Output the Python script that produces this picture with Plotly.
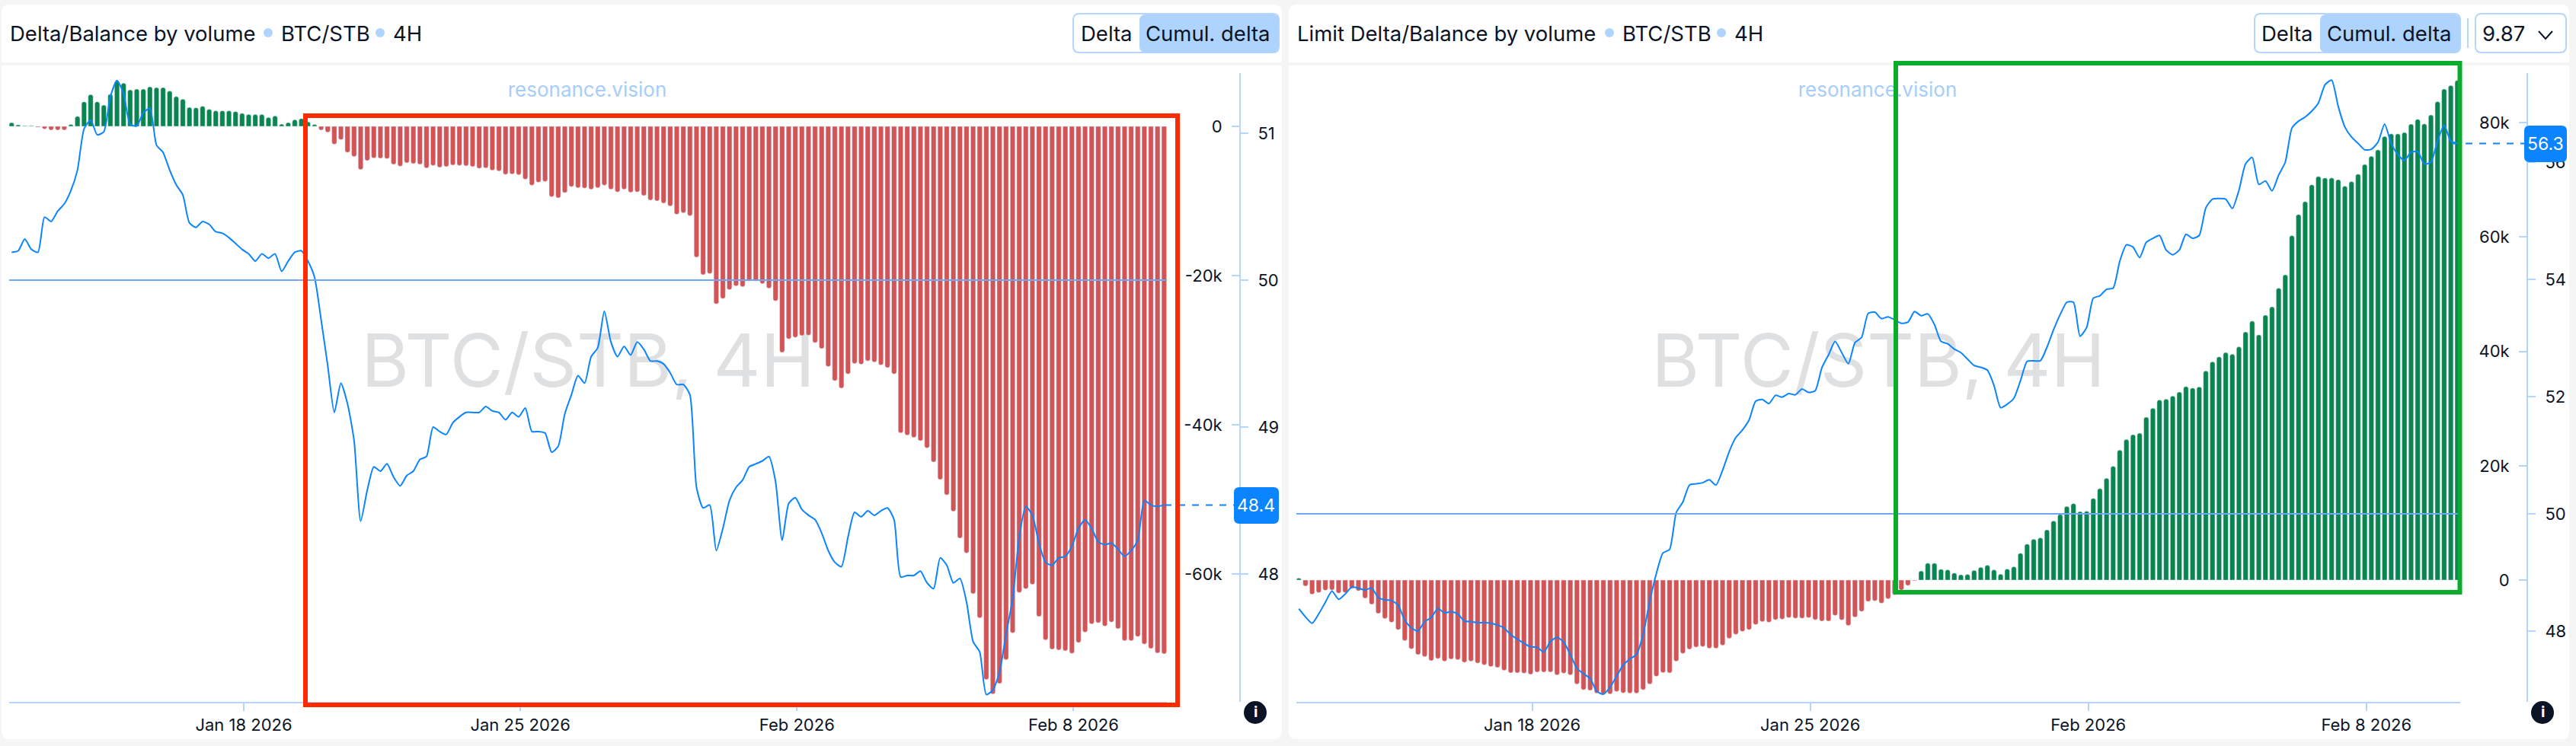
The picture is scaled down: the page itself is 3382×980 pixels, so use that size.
import pandas as pd
import plotly.graph_objects as go

W, H = 3382, 980

# 4H candles, same time base on both panels
times = pd.date_range("2026-01-12 03:00", periods=176, freq="4h")

# cumulative delta, thousands
delta_left = [
    0.5, 0.2, 0.07, 0.07, -0.1, -0.35, -0.5, -0.5, -0.5, 0.25, 1.35, 3.3, 4.25, 3.3, 2.85, 4.3,
    6.1, 5.8, 4.9, 5.0, 5.0, 5.3, 5.2, 5.2, 4.75, 4.0, 3.65, 2.55, 2.5, 2.7, 2.3, 2.1,
    2.1, 2.1, 2.0, 1.75, 1.6, 1.6, 1.6, 1.2, 1.4, 0.3, 0.5, 0.9, 1.05, 0.6, 0.25, -0.5,
    -0.8, -2.4, -1.8, -3.5, -4.05, -5.8, -4.6, -4.25, -4.3, -4.35, -5.1, -5.35, -4.9, -5.0, -5.1, -5.6,
    -5.25, -5.5, -5.4, -5.2, -5.25, -5.3, -5.4, -5.65, -5.6, -5.9, -6.0, -6.45, -6.4, -6.5, -7.1, -7.9,
    -7.5, -7.4, -9.45, -9.6, -8.9, -8.1, -8.25, -8.3, -8.45, -8.25, -7.9, -8.45, -8.8, -8.45, -8.85, -8.8,
    -9.3, -9.9, -10.0, -10.3, -10.7, -11.8, -11.6, -12.0, -17.55, -19.9, -19.75, -23.8, -23.1, -21.9, -21.4, -21.5,
    -20.75, -20.75, -21.1, -21.7, -23.4, -30.3, -28.5, -28.3, -28.05, -28.0, -29.0, -29.8, -32.2, -34.1, -35.1, -33.2,
    -31.8, -31.9, -31.45, -31.6, -32.0, -32.35, -33.2, -41.1, -41.4, -41.7, -42.15, -43.1, -45.0, -47.35, -49.4, -51.6,
    -55.2, -57.2, -62.65, -65.9, -74.15, -76.1, -74.7, -71.5, -67.9, -62.5, -62.0, -61.4, -65.7, -68.85, -70.1, -70.2,
    -70.3, -70.65, -69.2, -67.8, -66.7, -66.55, -67.0, -66.45, -67.35, -68.95, -68.95, -68.4, -69.4, -70.0, -70.6, -70.7,
]
delta_right = [
    0.35, -1.07, -2.5, -2.2, -1.8, -1.75, -2.3, -2.2, -1.5, -1.9, -3.2, -4.25, -5.85, -6.75, -7.4, -8.7,
    -10.6, -12.05, -13.05, -13.4, -14.1, -13.75, -14.2, -13.85, -13.95, -14.4, -14.2, -14.55, -14.85, -15.15, -15.3, -15.8,
    -16.25, -16.25, -16.3, -16.5, -16.1, -16.1, -16.1, -16.6, -16.3, -16.6, -18.2, -19.2, -19.3, -19.8, -19.95, -19.95,
    -19.5, -19.75, -19.8, -19.8, -19.2, -18.2, -16.85, -16.2, -16.25, -14.2, -12.85, -12.1, -11.75, -11.65, -11.95, -11.95,
    -11.4, -10.2, -9.5, -9.0, -8.7, -7.8, -7.3, -7.4, -6.95, -6.85, -6.6, -6.7, -6.7, -6.6, -6.95, -7.2,
    -7.2, -6.2, -7.0, -7.95, -6.5, -5.5, -3.75, -3.65, -4.05, -3.3, -2.6, -1.75, -0.95, -0.1, 1.6, 2.95,
    2.95, 1.9, 1.8, 1.25, 0.95, 1.0, 1.7, 2.25, 2.6, 1.8, 1.05, 1.95, 2.35, 4.7, 6.3, 7.15,
    7.4, 8.8, 10.35, 11.5, 12.9, 13.4, 12.0, 12.05, 14.3, 16.0, 17.8, 19.9, 22.75, 24.6, 25.45, 25.7,
    28.5, 30.05, 31.5, 31.65, 32.2, 32.9, 33.85, 33.6, 33.8, 36.6, 38.2, 39.05, 39.8, 39.5, 40.8, 43.4,
    45.3, 42.9, 46.35, 47.8, 51.05, 53.4, 60.25, 63.95, 66.2, 69.15, 70.6, 70.35, 70.35, 70.05, 68.9, 69.7,
    71.0, 72.7, 74.15, 75.25, 77.6, 78.05, 78.05, 78.3, 79.75, 80.6, 79.8, 81.35, 83.7, 85.9, 86.5, 87.4,
]

# balance, percent
balance_left = [
    50.19, 50.20, 50.28, 50.21, 50.19, 50.43, 50.40, 50.47, 50.52, 50.61, 50.75, 51.03, 51.09, 50.99, 51.01, 51.25,
    51.36, 51.27, 51.06, 51.05, 51.14, 51.17, 50.92, 50.87, 50.75, 50.65, 50.58, 50.39, 50.36, 50.40, 50.38, 50.33,
    50.32, 50.29, 50.25, 50.21, 50.18, 50.13, 50.18, 50.15, 50.18, 50.06, 50.13, 50.19, 50.20, 50.13, 50.02, 49.73,
    49.42, 49.10, 49.30, 49.16, 48.91, 48.36, 48.57, 48.73, 48.70, 48.75, 48.66, 48.60, 48.67, 48.70, 48.78, 48.80,
    49.00, 48.97, 48.95, 49.03, 49.07, 49.10, 49.10, 49.10, 49.14, 49.11, 49.10, 49.05, 49.10, 49.07, 49.13, 48.97,
    48.97, 48.96, 48.83, 48.87, 49.09, 49.22, 49.35, 49.30, 49.48, 49.54, 49.79, 49.58, 49.48, 49.55, 49.49, 49.58,
    49.53, 49.45, 49.45, 49.43, 49.37, 49.29, 49.29, 49.22, 48.59, 48.45, 48.47, 48.16, 48.31, 48.50, 48.59, 48.64,
    48.73, 48.75, 48.77, 48.80, 48.63, 48.23, 48.48, 48.52, 48.44, 48.40, 48.37, 48.28, 48.16, 48.08, 48.05, 48.25,
    48.42, 48.39, 48.43, 48.40, 48.43, 48.45, 48.37, 47.98, 47.99, 47.99, 48.02, 47.94, 47.90, 48.11, 48.06, 47.94,
    47.97, 47.81, 47.54, 47.47, 47.18, 47.21, 47.33, 47.59, 47.83, 48.25, 48.46, 48.40, 48.21, 48.08, 48.06, 48.11,
    48.12, 48.19, 48.31, 48.37, 48.31, 48.22, 48.20, 48.21, 48.17, 48.12, 48.16, 48.23, 48.50, 48.47, 48.46, 48.47,
]
balance_right = [
    48.38, 48.24, 48.13, 48.29, 48.49, 48.68, 48.54, 48.63, 48.75, 48.73, 48.70, 48.73, 48.57, 48.53, 48.52, 48.44,
    48.18, 48.05, 48.00, 48.16, 48.23, 48.38, 48.31, 48.33, 48.29, 48.17, 48.16, 48.14, 48.14, 48.13, 48.10, 48.05,
    47.94, 47.86, 47.79, 47.73, 47.72, 47.64, 47.82, 47.89, 47.81, 47.60, 47.36, 47.27, 47.19, 46.97, 46.92, 47.04,
    47.23, 47.42, 47.52, 47.60, 47.94, 48.51, 48.98, 49.33, 49.39, 50.02, 50.20, 50.49, 50.51, 50.53, 50.58, 50.49,
    50.74, 51.06, 51.30, 51.43, 51.60, 51.92, 51.95, 51.88, 52.02, 51.99, 52.05, 52.03, 52.13, 52.07, 52.10, 52.49,
    52.71, 52.94, 52.75, 52.56, 52.92, 53.01, 53.42, 53.44, 53.33, 53.36, 53.31, 53.25, 53.27, 53.45, 53.38, 53.41,
    53.23, 52.94, 52.90, 52.81, 52.75, 52.64, 52.53, 52.50, 52.45, 52.19, 51.81, 51.87, 51.97, 52.27, 52.60, 52.61,
    52.61, 52.84, 53.14, 53.40, 53.61, 53.61, 53.03, 53.18, 53.68, 53.72, 53.83, 53.85, 54.31, 54.59, 54.55, 54.37,
    54.63, 54.70, 54.75, 54.50, 54.42, 54.50, 54.77, 54.70, 54.75, 55.22, 55.37, 55.38, 55.37, 55.21, 55.52, 55.97,
    56.08, 55.62, 55.68, 55.51, 55.78, 56.00, 56.58, 56.70, 56.77, 56.87, 57.01, 57.32, 57.40, 56.95, 56.60, 56.43,
    56.32, 56.21, 56.22, 56.34, 56.65, 56.32, 56.13, 56.03, 56.17, 56.18, 55.97, 56.00, 56.36, 56.63, 56.36, 56.32,
]

x_ticks = ["2026-01-18", "2026-01-25", "2026-02-01", "2026-02-08"]
x_tick_labels = ["Jan 18 2026", "Jan 25 2026", "Feb 2026", "Feb 8 2026"]
x_range = ["2026-01-12 01:30", "2026-02-10 08:42"]

INK = "#0b1426"
LIGHT = "#b5d6fc"
FILL = "#aed3fd"
BLUE = "#0a84ff"
RED = "#d15456"
GREEN = "#0a8550"
FONT = "Inter"
Y_DOMAIN = [1 - 922 / H, 1 - 96 / H]


def px(x):
    return x / W


def py(y):
    return 1 - y / H


def rounded(x0, y0, x1, y1, r):
    return (
        f"M{px(x0 + r)},{py(y0)} L{px(x1 - r)},{py(y0)} Q{px(x1)},{py(y0)} {px(x1)},{py(y0 + r)} "
        f"L{px(x1)},{py(y1 - r)} Q{px(x1)},{py(y1)} {px(x1 - r)},{py(y1)} "
        f"L{px(x0 + r)},{py(y1)} Q{px(x0)},{py(y1)} {px(x0)},{py(y1 - r)} "
        f"L{px(x0)},{py(y0 + r)} Q{px(x0)},{py(y0)} {px(x0 + r)},{py(y0)} Z"
    )


def box(x0, y0, x1, y1, r=0, fill="#ffffff", line=None, width=0, layer="below"):
    shape = dict(type="path", path=rounded(x0, y0, x1, y1, r), xref="paper", yref="paper",
                 fillcolor=fill, line=dict(color=line or fill, width=width), layer=layer)
    return shape


def label(text, x, y, size=27.5, color=INK, anchor="left"):
    return dict(text=text, x=px(x), y=py(y), xref="paper", yref="paper", showarrow=False, xanchor=anchor,
                yanchor="middle", font=dict(family=FONT, size=size, color=color))


def bar_colors(values):
    return [GREEN if v >= 0 else RED for v in values]


fig = go.Figure()

# watermarks go into their own first subplot so the bars draw over them
fig.add_trace(go.Scatter(
    x=[772, 2466, 771, 2465], y=[484, 484, 120, 120], mode="text",
    text=["BTC/STB, 4H", "BTC/STB, 4H", "resonance.vision", "resonance.vision"],
    textposition="middle center",
    textfont=dict(family=FONT, size=[96, 96, 26, 26], color=["#dfe0e2", "#dfe0e2", "#a7cdfb", "#a7cdfb"]),
    hoverinfo="skip", showlegend=False, xaxis="x", yaxis="y",
))

fig.add_trace(go.Bar(x=times, y=delta_left, marker=dict(color=bar_colors(delta_left), cornerradius=3),
                     hoverinfo="skip", showlegend=False, xaxis="x2", yaxis="y2"))
fig.add_trace(go.Scatter(x=times, y=balance_left, mode="lines", hoverinfo="skip", showlegend=False,
                         line=dict(color=BLUE, width=2, shape="spline", smoothing=0.6), xaxis="x2", yaxis="y3"))
fig.add_trace(go.Bar(x=times, y=delta_right, marker=dict(color=bar_colors(delta_right), cornerradius=3),
                     hoverinfo="skip", showlegend=False, xaxis="x3", yaxis="y4"))
fig.add_trace(go.Scatter(x=times, y=balance_right, mode="lines", hoverinfo="skip", showlegend=False,
                         line=dict(color=BLUE, width=2, shape="spline", smoothing=0.6), xaxis="x3", yaxis="y5"))


def x_axis(x0, x1):
    return dict(domain=[px(x0), px(x1)], range=x_range, tickvals=x_ticks, ticktext=x_tick_labels, showgrid=False,
                zeroline=False, showline=True, linecolor=LIGHT, linewidth=2, ticks="outside", ticklen=10,
                tickwidth=2, tickcolor=LIGHT, tickangle=0, tickfont=dict(family=FONT, size=22, color=INK))


def y_axis(x, rng, vals, text, side, overlay=None):
    axis = dict(domain=Y_DOMAIN, range=rng, tickvals=vals, ticktext=text, side=side, anchor="free", position=px(x),
                showgrid=False, zeroline=False, showline=True, linecolor=LIGHT, linewidth=2, ticks="outside",
                ticklen=10, tickwidth=2, tickcolor=LIGHT, ticklabelstandoff=8,
                tickfont=dict(family=FONT, size=22, color=INK))
    if overlay:
        axis["overlaying"] = overlay
    return axis


shapes = [
    box(2, 6, 1683, 971, 10),
    box(1692, 6, 3373, 971, 10),
    dict(type="rect", xref="paper", yref="paper", x0=px(2), x1=px(1683), y0=py(82), y1=py(86), layer="below",
         fillcolor="#f5f5f5", line_width=0),
    dict(type="rect", xref="paper", yref="paper", x0=px(1692), x1=px(3373), y0=py(82), y1=py(86), layer="below",
         fillcolor="#f5f5f5", line_width=0),
    # toggles
    box(1409, 18, 1679, 69, 8, fill="#ffffff", line=LIGHT, width=2),
    box(1496, 19, 1679, 69, 8, fill=FILL, line=FILL, width=0),
    box(2960, 18, 3230, 69, 8, fill="#ffffff", line=LIGHT, width=2),
    box(3046, 19, 3230, 69, 8, fill=FILL, line=FILL, width=0),
    box(3250, 18, 3369, 69, 8, fill="#ffffff", line=LIGHT, width=2),
    dict(type="line", xref="paper", yref="paper", x0=px(3240), x1=px(3240), y0=py(24), y1=py(63),
         line=dict(color=LIGHT, width=2), layer="below"),
    dict(type="path", xref="paper", yref="paper", layer="below",
         path=f"M{px(3333)},{py(41)} L{px(3342)},{py(51)} L{px(3351)},{py(41)}", line=dict(color=INK, width=2)),
    # 50% levels
    dict(type="line", xref="x2 domain", x0=0, x1=1, yref="y3", y0=50, y1=50, line=dict(color="#6ea8f5", width=2)),
    dict(type="line", xref="x3 domain", x0=0, x1=1, yref="y5", y0=50, y1=50, line=dict(color="#6ea8f5", width=2)),
    # last value leaders
    dict(type="line", xref="paper", x0=px(1529), x1=px(1620), yref="y3", y0=balance_left[-1], y1=balance_left[-1],
         line=dict(color=BLUE, width=2, dash="dash")),
    dict(type="line", xref="paper", x0=px(3219), x1=px(3314), yref="y5", y0=balance_right[-1], y1=balance_right[-1],
         line=dict(color=BLUE, width=2, dash="dash")),
    box(1620, 640, 1679, 688, 7, fill=BLUE, layer="above"),
    box(3314, 165, 3370, 213, 7, fill=BLUE, layer="above"),
    # highlight frames
    dict(type="rect", xref="paper", yref="paper", x0=px(401), x1=px(1546), y0=py(152), y1=py(926),
         line=dict(color="#ff2a00", width=6)),
    dict(type="rect", xref="paper", yref="paper", x0=px(2489), x1=px(3229.5), y0=py(83), y1=py(778),
         line=dict(color="#0bab2c", width=6)),
    # info icons
    dict(type="circle", xref="paper", yref="paper", x0=px(1633), x1=px(1663), y0=py(921), y1=py(951),
         fillcolor=INK, line_width=0),
    dict(type="circle", xref="paper", yref="paper", x0=px(3323), x1=px(3353), y0=py(921), y1=py(951),
         fillcolor=INK, line_width=0),
    # header dots
    dict(type="circle", xref="paper", yref="paper", x0=px(346), x1=px(358), y0=py(37), y1=py(49),
         fillcolor="#b0d4fd", line_width=0),
    dict(type="circle", xref="paper", yref="paper", x0=px(493), x1=px(505), y0=py(37), y1=py(49),
         fillcolor="#b0d4fd", line_width=0),
    dict(type="circle", xref="paper", yref="paper", x0=px(2107), x1=px(2119), y0=py(37), y1=py(49),
         fillcolor="#b0d4fd", line_width=0),
    dict(type="circle", xref="paper", yref="paper", x0=px(2254), x1=px(2266), y0=py(37), y1=py(49),
         fillcolor="#b0d4fd", line_width=0),
]

annotations = [
    label("Delta/Balance by volume", 11, 44),
    label("BTC/STB", 367, 44),
    label("4H", 514, 44),
    label("Limit Delta/Balance by volume", 1701, 44),
    label("BTC/STB", 2128, 44),
    label("4H", 2275, 44),
    label("Delta", 1453, 44, anchor="center"),
    label("Cumul. delta", 1586, 44, anchor="center"),
    label("Delta", 3003, 44, anchor="center"),
    label("Cumul. delta", 3137, 44, anchor="center"),
    label("9.87", 3287, 44, anchor="center"),
    label("48.4", 1649, 664, size=23, color="#ffffff", anchor="center"),
    label("56.3", 3342, 189, size=23, color="#ffffff", anchor="center"),
    label("<b>i</b>", 1648, 935, size=20, color="#ffffff", anchor="center"),
    label("<b>i</b>", 3338, 935, size=20, color="#ffffff", anchor="center"),
]

fig.update_layout(
    width=W, height=H, margin=dict(l=0, r=0, t=0, b=0), autosize=False,
    paper_bgcolor="#f5f5f5", plot_bgcolor="rgba(0,0,0,0)", bargap=0.25, showlegend=False,
    xaxis=dict(domain=[0, 1], range=[0, W], visible=False, fixedrange=True),
    yaxis=dict(domain=[0, 1], range=[H, 0], visible=False, fixedrange=True),
    xaxis2=dict(x_axis(12, 1532), anchor="y2"),
    xaxis3=dict(x_axis(1702, 3230), anchor="y4"),
    yaxis2=y_axis(1628, [-77.14, 7.14], [0, -20, -40, -60], ["0", "-20k", "-40k", "-60k"], "left"),
    yaxis3=y_axis(1628, [47.13, 51.41], [48, 49, 50, 51], ["48", "49", "50", "51"], "right", overlay="y2"),
    yaxis4=y_axis(3318, [-21.3, 88.68], [0, 20, 40, 60, 80], ["0", "20k", "40k", "60k", "80k"], "left"),
    yaxis5=y_axis(3318, [46.79, 57.52], [48, 50, 52, 54, 56], ["48", "50", "52", "54", "56"], "right", overlay="y4"),
    shapes=shapes,
    annotations=annotations,
)

# the page keeps its default 8px body margin otherwise and the figure slides off the window
fig.write_html("out.html", config=dict(displayModeBar=False),
               post_script="document.body.style.margin='0';")
